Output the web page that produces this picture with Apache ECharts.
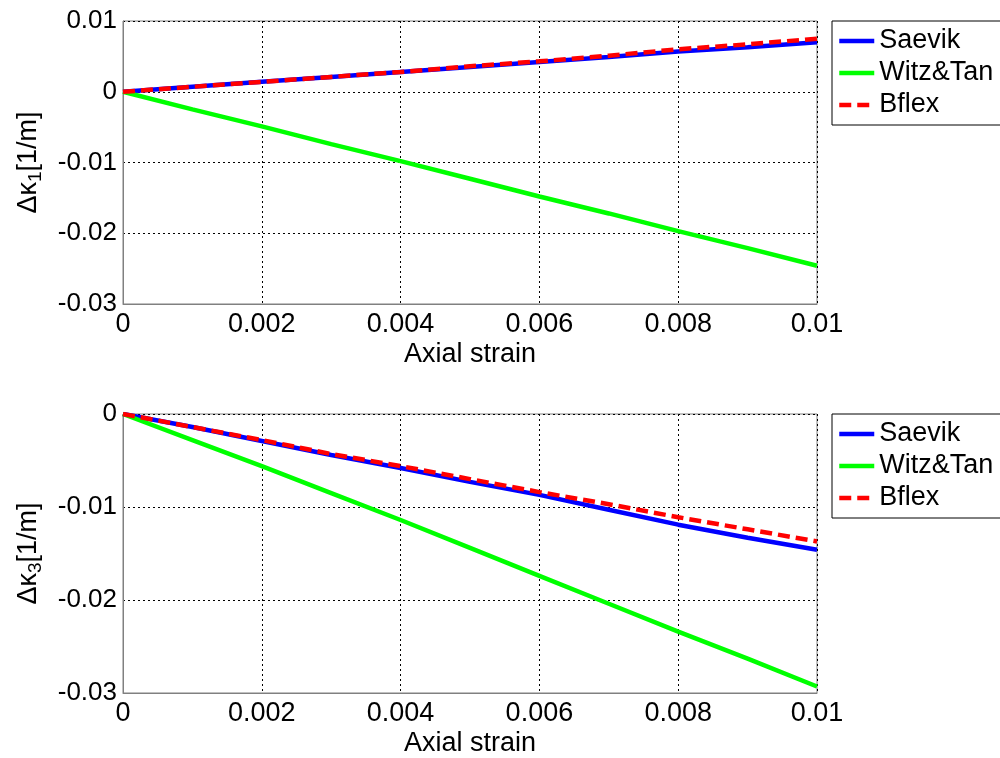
<!DOCTYPE html>
<html>
<head>
<meta charset="utf-8">
<script src="https://cdn.jsdelivr.net/npm/echarts@6/dist/echarts.min.js"></script>
<style>
  html, body { margin: 0; padding: 0; background: #fff; }
  #chart { width: 1000px; height: 758px; }
</style>
</head>
<body>
<div id="chart"></div>
<script>
// Axial strain samples shared by both panels
const strain = [0, 0.001, 0.002, 0.003, 0.004, 0.005, 0.006, 0.007, 0.008, 0.009, 0.010];

// Change in curvature about axis 1 [1/m]
const k1Saevik = [0, 0.0007, 0.0014, 0.0021, 0.0028, 0.0035, 0.0042, 0.0049, 0.0057, 0.0063, 0.0070];
const k1Witz   = [0, -0.0025, -0.0049, -0.0074, -0.0098, -0.0123, -0.0148, -0.0172, -0.0197, -0.0221, -0.0246];
const k1Bflex  = [0, 0.0007, 0.0014, 0.0021, 0.0028, 0.0036, 0.0043, 0.0051, 0.0060, 0.0067, 0.0075];

// Change in curvature about axis 3 [1/m]
const k3Saevik = [0, -0.0014, -0.0029, -0.0044, -0.0058, -0.0073, -0.0087, -0.0103, -0.0119, -0.0133, -0.0146];
const k3Witz   = [0, -0.0028, -0.0056, -0.0085, -0.0114, -0.0144, -0.0174, -0.0204, -0.0234, -0.0263, -0.0293];
const k3Bflex  = [0, -0.0014, -0.0028, -0.0043, -0.0056, -0.0070, -0.0084, -0.0097, -0.0111, -0.0124, -0.0137];

const seriesNames = ['Saevik', 'Witz&Tan', 'Bflex'];
const colors = ['#0000ff', '#00ff00', '#ff0000'];

const FONT = 'Liberation Sans, Arial, sans-serif';
const pairs = (ys) => strain.map((x, i) => [x, ys[i]]);

function xAxis(gridIndex) {
  return {
    type: 'value', gridIndex, min: 0, max: 0.01, interval: 0.002,
    name: 'Axial strain', nameLocation: 'middle', nameGap: 37,
    nameTextStyle: { fontFamily: FONT, fontSize: 27, color: '#000' },
    axisLine: { show: true, onZero: false, lineStyle: { color: '#808080', width: 1 } },
    axisTick: { show: false },
    axisLabel: { fontFamily: FONT, fontSize: 27, color: '#000', margin: 7 },
    splitLine: { show: true, lineStyle: { color: '#000', width: 1, type: [2, 3] } }
  };
}

function yAxis(gridIndex, min, max, sub) {
  return {
    type: 'value', gridIndex, min, max, interval: 0.01,
    name: '{a|Δκ}{s|' + sub + '}{a|[1/m]}',
    nameLocation: 'middle', nameRotate: 90, nameGap: 78,
    nameTextStyle: {
      fontFamily: FONT, color: '#000',
      rich: {
        a: { fontFamily: FONT, fontSize: 27, color: '#000' },
        s: { fontFamily: FONT, fontSize: 19, color: '#000', padding: [14, 0, 0, 0] }
      }
    },
    axisLine: { show: true, onZero: false, lineStyle: { color: '#808080', width: 1 } },
    axisTick: { show: false },
    axisLabel: { fontFamily: FONT, fontSize: 26, color: '#000', margin: 6 },
    splitLine: { show: true, lineStyle: { color: '#000', width: 1, type: [2, 3] } }
  };
}

function lineSeries(name, data, idx, axisIndex) {
  return {
    type: 'line', name, data: pairs(data),
    xAxisIndex: axisIndex, yAxisIndex: axisIndex,
    showSymbol: false, symbol: 'none', animation: false,
    lineStyle: { color: colors[idx], width: 4.5, type: name === 'Bflex' ? [12, 6] : 'solid' },
    itemStyle: { color: colors[idx] },
    z: 2 + idx
  };
}

function legend(top) {
  return {
    data: seriesNames, orient: 'vertical', left: 832, top,
    itemWidth: 35, itemHeight: 14, itemGap: 4,
    padding: [6, 60, 6, 5],
    borderColor: '#000', borderWidth: 1, backgroundColor: '#fff',
    itemStyle: { opacity: 0 },
    lineStyle: { width: 4.5 },
    textStyle: { fontFamily: FONT, fontSize: 27, color: '#000', lineHeight: 28 },
    selectedMode: false
  };
}

const chart = echarts.init(document.getElementById('chart'), null, { renderer: 'canvas' });
chart.setOption({
  backgroundColor: '#fff',
  animation: false,
  grid: [
    { left: 123, top: 21, width: 694, height: 283, show: true, borderColor: '#808080', borderWidth: 1, backgroundColor: 'transparent' },
    { left: 123, top: 414, width: 694, height: 283, show: true, borderColor: '#808080', borderWidth: 1, backgroundColor: 'transparent' }
  ],
  legend: [legend(21), legend(414)],
  xAxis: [xAxis(0), xAxis(1)],
  yAxis: [yAxis(0, -0.03, 0.01, '1'), yAxis(1, -0.03, 0, '3')],
  series: [
    lineSeries('Saevik', k1Saevik, 0, 0),
    lineSeries('Witz&Tan', k1Witz, 1, 0),
    lineSeries('Bflex', k1Bflex, 2, 0),
    lineSeries('Saevik', k3Saevik, 0, 1),
    lineSeries('Witz&Tan', k3Witz, 1, 1),
    lineSeries('Bflex', k3Bflex, 2, 1)
  ]
});
</script>
</body>
</html>
